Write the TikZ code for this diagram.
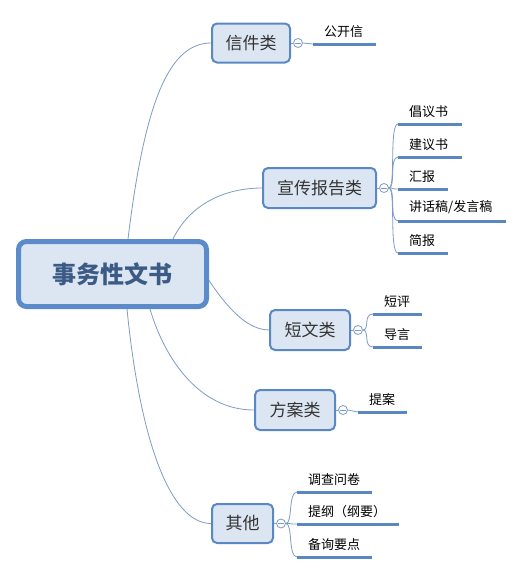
\documentclass[tikz,border=0pt]{standalone}
\usepackage{fontspec}
\setmainfont{Noto Sans CJK SC}
\usetikzlibrary{backgrounds}
\definecolor{linecol}{HTML}{7E9CC5}
\definecolor{ulcol}{HTML}{5B87C0}
\definecolor{boxfill}{HTML}{DCE6F2}
\definecolor{boxline}{HTML}{5A88C6}
\definecolor{rootline}{HTML}{5B8BCB}
\definecolor{roottext}{HTML}{3B5B86}
\definecolor{topictext}{HTML}{333333}
\tikzset{
  rootbox/.style={draw=rootline, line width=5pt, fill=boxfill, rounded corners=8pt,
    minimum width=188pt, minimum height=65pt, inner sep=0pt,
    font=\fontsize{24}{28}\selectfont\bfseries, text=roottext},
  topic/.style={draw=boxline, line width=2pt, fill=boxfill, rounded corners=5pt,
    minimum height=39pt, inner sep=0pt, font=\fontsize{17}{20}\selectfont, text=topictext},
  leaf/.style={anchor=south west, inner xsep=11pt, inner ysep=6.5pt, text width=#1,
    align=left, font=\fontsize{13}{15}\selectfont, text=black},
  collapse/.style={circle, draw=linecol, line width=0.8pt, fill=white, minimum size=9pt, inner sep=0pt,
    path picture={\draw[linecol, line width=0.8pt] ([xshift=-2.6pt]path picture bounding box.center) -- ([xshift=2.6pt]path picture bounding box.center);}},
  branch/.style={draw=linecol, line width=0.8pt},
  uline/.style={draw=ulcol, line width=3pt},
}
\begin{document}
\begin{tikzpicture}[x=1pt, y=-1pt]
\useasboundingbox (0,0) rectangle (524,573);

\node[rootbox] (root) at (112.5,274) {事务性文书};

\node[topic, minimum width=78pt] (n1) at (251,43) {信件类};
\node[topic, minimum width=113pt, minimum height=40pt] (n2) at (319.5,188) {宣传报告类};
\node[topic, minimum width=80pt, minimum height=40pt] (n3) at (310,330) {短文类};
\node[topic, minimum width=80pt, minimum height=40pt] (n4) at (295,410) {方案类};
\node[topic, minimum width=61pt] (n5) at (242.5,523.5) {其他};

\node[collapse] (k1) at ([xshift=7pt]n1.east) {};
\node[collapse] (k2) at ([xshift=7pt]n2.east) {};
\node[collapse] (k3) at ([xshift=7pt]n3.east) {};
\node[collapse] (k4) at ([xshift=7pt]n4.east) {};
\node[collapse] (k5) at ([xshift=7pt]n5.east) {};

\node[leaf=41pt] (c11) at (313,44) {公开信};

\node[leaf=42pt] (c21) at (398,124) {倡议书};
\node[leaf=42pt] (c22) at (398,157) {建议书};
\node[leaf=28pt] (c23) at (398,189) {汇报};
\node[leaf=86pt] (c24) at (398,221) {讲话稿/发言稿};
\node[leaf=28pt] (c25) at (398,253) {简报};

\node[leaf=27pt] (c31) at (373,314) {短评};
\node[leaf=27pt] (c32) at (373,347) {导言};

\node[leaf=27pt] (c41) at (358,412) {提案};

\node[leaf=53pt] (c51) at (297,492) {调查问卷};
\node[leaf=80pt] (c52) at (297,524) {提纲（纲要）};
\node[leaf=53pt] (c53) at (297,557) {备询要点};

\begin{pgfonlayer}{background}
  \fill[white] (0,0) rectangle (524,573);
  % root to topics
  \draw[branch] ([xshift=15.5pt]root.north) .. controls +(17,-140) and +(-41,0) .. (n1.west);
  \draw[branch] ([xshift=60.5pt]root.north) .. controls +(17,-35) and +(-37,0) .. (n2.west);
  \draw[branch] ([xshift=82pt,yshift=16pt]root.center) .. controls +(20,32) and +(-29,0) .. (n3.west);
  \draw[branch] ([xshift=37.5pt]root.south) .. controls +(15,51) and +(-54,0) .. (n4.west);
  \draw[branch] ([xshift=14.5pt]root.south) .. controls +(13,131) and +(-41,0) .. (n5.west);
  % topics to collapse circles
  \foreach \n/\k in {n1/k1,n2/k2,n3/k3,n4/k4,n5/k5}
    \draw[branch] (\n.east) -- (\k.west);
\end{pgfonlayer}

% collapse circles to leaves
\draw[branch] (k1.east) -- (c11.south west);
\draw[branch] (k4.east) -- (c41.south west);
\foreach \c in {c21,c22,c23,c24,c25}
  \draw[branch] (k2.east) .. controls +(7,0) and +(-9,0) .. (\c.south west);
\foreach \c in {c31,c32}
  \draw[branch] (k3.east) .. controls +(7,0) and +(-10,0) .. (\c.south west);
\foreach \c in {c51,c52,c53}
  \draw[branch] (k5.east) .. controls +(7,0) and +(-9,0) .. (\c.south west);

% underlines
\foreach \c in {c11,c21,c22,c23,c24,c25,c31,c32,c41,c51,c52,c53}
  \draw[uline] (\c.south west) -- (\c.south east);
\end{tikzpicture}
\end{document}
